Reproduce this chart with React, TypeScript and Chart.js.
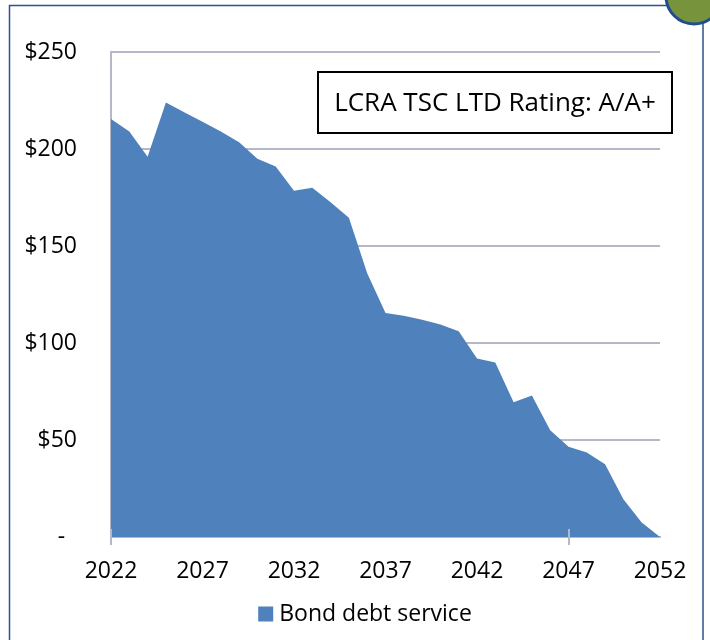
import React, { useEffect, useRef } from "react";
import { Chart, registerables } from "chart.js";

Chart.register(...registerables);

const years = [
  "2022", "2023", "2024", "2025", "2026", "2027", "2028", "2029", "2030", "2031",
  "2032", "2033", "2034", "2035", "2036", "2037", "2038", "2039", "2040", "2041",
  "2042", "2043", "2044", "2045", "2046", "2047", "2048", "2049", "2050", "2051",
  "2052",
];

const bondDebtService = [
  215.5, 209, 196, 224, 219, 214, 209, 203.5, 195, 191,
  178.5, 180, 172.5, 164.5, 136, 115.5, 114, 112, 109.5, 106,
  92, 90, 69.5, 73, 55, 46.5, 43.5, 37.5, 19.5, 7.5,
  0,
];

const seriesName = "Bond debt service";
const ratingText = "LCRA TSC LTD Rating: A/A+";
const yMin = 0;
const yMax = 250;
const yStep = 50;
const xLabelEvery = 5;

const FONT = "'Open Sans', 'Noto Sans', sans-serif";
const GRID = "#B5B8C9";
const FILL = "#4F81BD";

const framePlugin = {
  id: "frameDecor",
  beforeDraw(chart: any) {
    const ctx = chart.ctx;
    ctx.save();
    ctx.fillStyle = "#ffffff";
    ctx.fillRect(0, 0, chart.width, chart.height);
    ctx.restore();
  },
  afterDatasetsDraw(chart: any) {
    const ctx = chart.ctx;
    const x = chart.scales.x;
    const bottom = chart.chartArea.bottom;
    ctx.save();
    ctx.strokeStyle = GRID;
    ctx.lineWidth = 2;
    x.ticks.forEach((_t: any, i: number) => {
      if (i % xLabelEvery !== 0) return;
      const px = Math.round(x.getPixelForTick(i));
      ctx.beginPath();
      ctx.moveTo(px, bottom - 8);
      ctx.lineTo(px, bottom + 8);
      ctx.stroke();
    });
    ctx.restore();
  },
  afterDraw(chart: any) {
    const ctx = chart.ctx;
    ctx.save();
    // outer frame
    ctx.strokeStyle = "#2F528F";
    ctx.lineWidth = 1.5;
    ctx.beginPath();
    ctx.moveTo(9.5, 645);
    ctx.lineTo(9.5, 5.5);
    ctx.lineTo(680, 5.5);
    ctx.moveTo(703, 20);
    ctx.lineTo(703, 645);
    ctx.stroke();
    // corner circle
    ctx.beginPath();
    ctx.arc(694, -4, 28, 0, Math.PI * 2);
    ctx.fillStyle = "#77933C";
    ctx.fill();
    ctx.lineWidth = 3;
    ctx.strokeStyle = "#1F4E8C";
    ctx.stroke();
    // rating text box
    const bx = 318, by = 72, bw = 354, bh = 61;
    ctx.fillStyle = "#ffffff";
    ctx.fillRect(bx, by, bw, bh);
    ctx.strokeStyle = "#000000";
    ctx.lineWidth = 2;
    ctx.strokeRect(bx, by, bw, bh);
    ctx.fillStyle = "#000000";
    ctx.font = `26px ${FONT}`;
    ctx.textAlign = "center";
    ctx.textBaseline = "middle";
    ctx.fillText(ratingText, bx + bw / 2, by + bh / 2 + 1);
    // legend
    const ds = chart.data.datasets[0];
    ctx.font = `23px ${FONT}`;
    const tw = ctx.measureText(ds.label).width;
    const box = 15, gap = 6;
    const total = box + gap + tw;
    const lx = 365 - total / 2;
    const ly = 614;
    ctx.fillStyle = ds.backgroundColor;
    ctx.fillRect(lx, ly - box / 2, box, box);
    ctx.fillStyle = "#000000";
    ctx.textAlign = "left";
    ctx.fillText(ds.label, lx + box + gap, ly);
    ctx.restore();
  },
};

export default function App() {
  const ref = useRef<HTMLCanvasElement | null>(null);

  useEffect(() => {
    if (!ref.current) return;
    Chart.defaults.font.family = FONT;
    const chart = new Chart(ref.current, {
      type: "line",
      data: {
        labels: years,
        datasets: [
          {
            label: seriesName,
            data: bondDebtService,
            fill: "origin",
            backgroundColor: FILL,
            borderColor: FILL,
            borderWidth: 0,
            pointRadius: 0,
            tension: 0,
          },
        ],
      },
      options: {
        responsive: false,
        animation: false,
        layout: { padding: { left: 0, right: 50, top: 52, bottom: 43 } },
        plugins: {
          legend: { display: false },
          tooltip: { enabled: false },
        },
        scales: {
          x: {
            z: 1,
            grid: { display: false, drawTicks: false },
            border: { display: true, color: GRID, width: 2 },
            afterFit: (s: any) => {
              s.height = 60;
            },
            ticks: {
              autoSkip: false,
              maxRotation: 0,
              padding: 21,
              color: "#000000",
              font: { size: 23, family: FONT },
              callback: function (this: any, value: any, index: number) {
                return index % xLabelEvery === 0 ? this.getLabelForValue(value) : null;
              },
            },
          },
          y: {
            min: yMin,
            max: yMax,
            grid: { color: GRID, lineWidth: 2, drawTicks: false },
            border: { display: true, color: GRID, width: 2 },
            afterFit: (s: any) => {
              s.width = 111;
            },
            ticks: {
              stepSize: yStep,
              padding: 34,
              color: "#000000",
              font: { size: 23, family: FONT },
              callback: (v: any) => (Number(v) === 0 ? "-  " : "$" + v),
            },
          },
        },
      },
      plugins: [framePlugin],
    });
    return () => chart.destroy();
  }, []);

  return (
    <div style={{ position: "absolute", left: 0, top: 0, width: 710, height: 640 }}>
      <canvas ref={ref} width={710} height={640} style={{ display: "block" }} />
    </div>
  );
}
